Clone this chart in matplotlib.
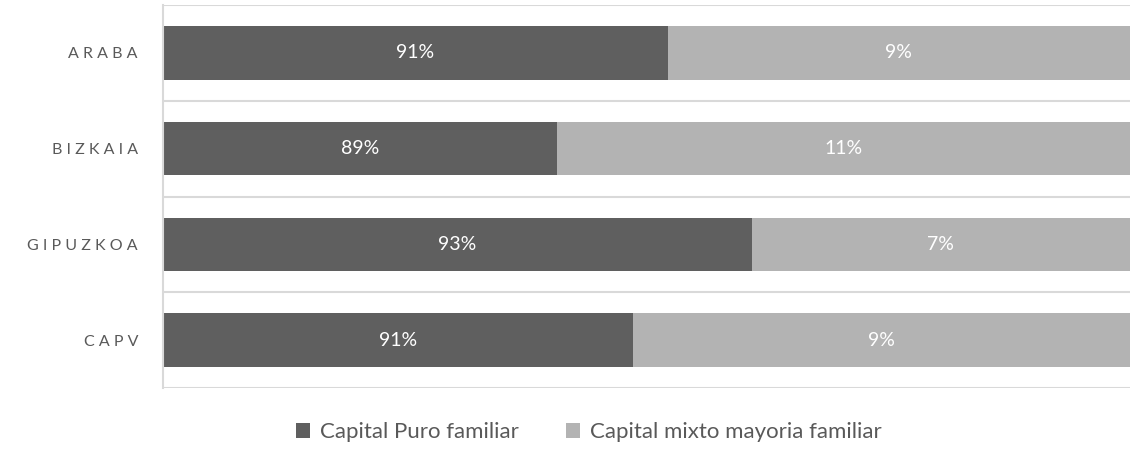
"""stacked share of family-owned capital by territory"""

import matplotlib
matplotlib.use('Agg')
import matplotlib.pyplot as plt
import numpy as np

territorios = ['ARABA', 'BIZKAIA', 'GIPUZKOA', 'CAPV']
puro_familiar = [91.2, 89.1, 92.8, 90.55]
mixto_familiar = [8.8, 10.9, 7.2, 9.45]
series_names = ['Capital Puro familiar', 'Capital mixto mayoria familiar']

DARK = '#5f5f5f'
LIGHT = '#b3b3b3'
GRID = '#d9d9d9'
TEXT = '#595959'
XMIN = 81.6

plt.rcParams['font.family'] = ['Lato', 'DejaVu Sans']

fig = plt.figure(figsize=(11.35, 4.51), dpi=100)
ax = fig.add_axes([163 / 1135, 1 - 388 / 451, (1130 - 163) / 1135, 383 / 451])

y = np.arange(len(territorios))
dark = np.array(puro_familiar)
light = np.array(mixto_familiar)

ax.barh(y, dark, height=0.56, color=DARK, label=series_names[0])
ax.barh(y, light, left=dark, height=0.56, color=LIGHT, label=series_names[1])

ax.set_xlim(XMIN, 100)
ax.set_ylim(len(territorios) - 0.5, -0.5)

# value labels centred on the visible part of each segment
for i in range(len(territorios)):
    ax.text((XMIN + dark[i]) / 2, i, '{:.0f}%'.format(dark[i]), color='white',
            ha='center', va='center', fontsize=14)
    ax.text(dark[i] + light[i] / 2, i, '{:.0f}%'.format(light[i]), color='white',
            ha='center', va='center', fontsize=14)

ax.set_yticks(y)
ax.set_yticklabels([' '.join(t) for t in territorios], color=TEXT, fontsize=11.5)
ax.tick_params(axis='y', length=0, pad=18)
ax.set_yticks(np.arange(len(territorios) + 1) - 0.5, minor=True)
ax.tick_params(axis='y', which='minor', length=0)
ax.grid(True, which='minor', axis='y', color=GRID, linewidth=1.5)
ax.set_axisbelow(True)
ax.set_xticks([])

for side in ['top', 'right', 'bottom']:
    ax.spines[side].set_visible(False)
ax.spines['left'].set_color(GRID)
ax.spines['left'].set_linewidth(1.5)

fig.legend(loc='center', bbox_to_anchor=(589 / 1135, 1 - 432 / 451), ncol=2,
           frameon=False, fontsize=16, handlelength=0.64, handleheight=0.64,
           handletextpad=0.45, columnspacing=2.1, labelcolor=TEXT,
           borderpad=0, borderaxespad=0)

fig.savefig('out.png', dpi=100)
